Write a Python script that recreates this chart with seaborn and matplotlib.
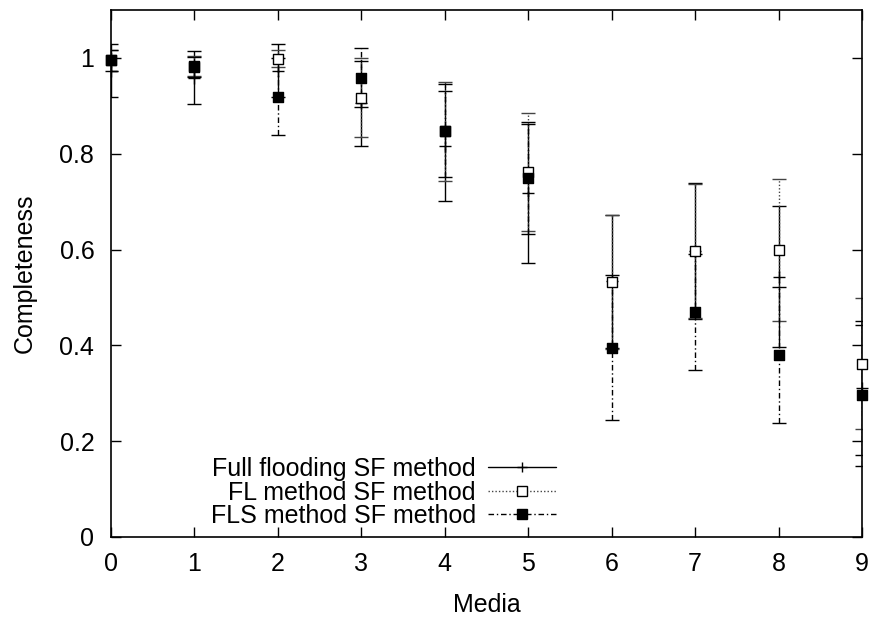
import matplotlib
matplotlib.use("Agg")
import matplotlib.pyplot as plt
from matplotlib.lines import Line2D
import seaborn as sns
import pandas as pd

media = [0, 1, 2, 3, 4, 5, 6, 7, 8, 9]

full_mean = [0.973, 0.959, 0.973, 0.905, 0.816, 0.717, 0.534, 0.597, 0.543, 0.311]
full_err = [0.055, 0.056, 0.055, 0.089, 0.115, 0.145, 0.139, 0.142, 0.147, 0.139]

fl_mean = [0.995, 0.983, 0.998, 0.917, 0.847, 0.762, 0.533, 0.597, 0.599, 0.362]
fl_err = [0.022, 0.020, 0.018, 0.083, 0.103, 0.123, 0.140, 0.140, 0.148, 0.137]

fls_mean = [0.995, 0.981, 0.919, 0.959, 0.848, 0.750, 0.395, 0.470, 0.380, 0.296]
fls_err = [0.022, 0.020, 0.080, 0.062, 0.097, 0.117, 0.151, 0.121, 0.142, 0.147]

labels = ["Full flooding SF method", "FL method SF method", "FLS method SF method"]

df = pd.DataFrame({
    "Media": media * 3,
    "Completeness": full_mean + fl_mean + fls_mean,
    "err": full_err + fl_err + fls_err,
    "method": [labels[0]] * 10 + [labels[1]] * 10 + [labels[2]] * 10,
})

sns.set_style("ticks", {"text.color": "black", "axes.labelcolor": "black",
                        "xtick.color": "black", "ytick.color": "black",
                        "axes.edgecolor": "black"})
plt.rcParams["font.family"] = ["Liberation Sans", "DejaVu Sans"]

fig, ax = plt.subplots(figsize=(8.72, 6.19), dpi=100)
fig.subplots_adjust(left=111 / 872, right=862 / 872, top=1 - 10 / 619, bottom=1 - 537 / 619)

# gnuplot-ish line styles for the three methods
styles = {
    labels[0]: dict(ls="-", marker="+", mfc="black", ms=9, color="black"),
    labels[1]: dict(ls=(0, (1, 1.5)), marker="s", mfc="white", ms=7, color="#444444"),
    labels[2]: dict(ls=(0, (4, 2, 1, 2)), marker="s", mfc="black", ms=7, color="black"),
}

handles = []
for name in labels:
    d = df[df["method"] == name]
    st = styles[name]
    eb = ax.errorbar(d["Media"], d["Completeness"], yerr=d["err"], fmt="none",
                     ecolor=st["color"], elinewidth=1.0, capsize=5, capthick=1.0, zorder=2)
    eb[2][0].set_linestyle(st["ls"])
    if st["marker"] == "+":
        sns.scatterplot(x=d["Media"], y=d["Completeness"], ax=ax, marker="+",
                        s=st["ms"] ** 2, color="black", linewidth=1.0, zorder=3,
                        legend=False, clip_on=False)
    else:
        sns.scatterplot(x=d["Media"], y=d["Completeness"], ax=ax, marker="s",
                        s=st["ms"] ** 2, color=st["mfc"], edgecolor="black",
                        linewidth=1.0, zorder=3, legend=False, clip_on=False)
    handles.append(Line2D([0], [0], ls=st["ls"], marker=st["marker"], color=st["color"],
                          mfc=st["mfc"], mec="black", ms=7, lw=1.0))

ax.set_xlim(0, 9)
ax.set_ylim(0, 1.1)
ax.set_xticks(range(10))
ax.set_yticks([0, 0.2, 0.4, 0.6, 0.8, 1])
ax.set_yticklabels(["0", "0.2", "0.4", "0.6", "0.8", "1"])
ax.tick_params(direction="in", top=True, right=True, labelsize=18, length=7, width=1)
ax.tick_params(axis="x", pad=11)
ax.tick_params(axis="y", pad=12)
for sp in ax.spines.values():
    sp.set_linewidth(1.2)
ax.set_xlabel("Media", fontsize=18, labelpad=12)
ax.set_ylabel("Completeness", fontsize=18, labelpad=16)

ax.legend(handles, labels, loc="lower right", bbox_to_anchor=(0.5925, 0.017), frameon=False,
          markerfirst=False, handlelength=2.7, labelspacing=-0.02, fontsize=18,
          handletextpad=0.5, borderaxespad=0.0, borderpad=0.0)

fig.savefig("out.png", dpi=100)
